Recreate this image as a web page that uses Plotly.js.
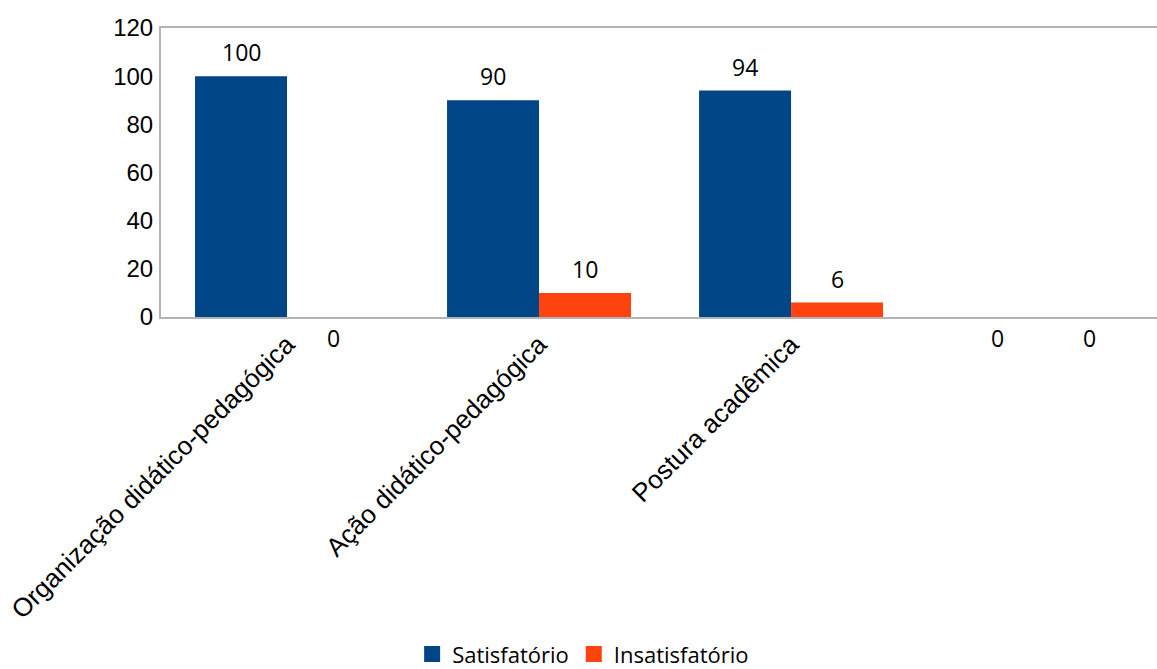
<!DOCTYPE html>
<html>
<head>
<meta charset="utf-8">
<script src="https://cdn.plot.ly/plotly-3.0.1.min.js"></script>
<style>html,body{margin:0;padding:0;background:#fff;}#chart{width:1157px;height:669px;}</style>
</head>
<body>
<div id="chart"></div>
<script>
const categories = ["Organização didático-pedagógica", "Ação didático-pedagógica", "Postura acadêmica", ""];
const catKeys = ["c0", "c1", "c2", "c3"];
const satisfatorio = [100, 90, 94, 0];
const insatisfatorio = [0, 10, 6, 0];
const seriesNames = ["Satisfatório", "Insatisfatório"];
const colors = ["#004586", "#ff420e"];

const traces = [satisfatorio, insatisfatorio].map((vals, i) => ({
  type: "bar",
  name: seriesNames[i],
  x: catKeys,
  y: vals,
  marker: {color: colors[i]},
  hoverinfo: "none",
  showlegend: false
}));
// legend entries with larger square swatches
seriesNames.forEach((n, i) => {
  traces.push({
    type: "scatter", mode: "markers", name: n,
    x: [null], y: [null],
    marker: {symbol: "square", size: 16, color: colors[i]},
    showlegend: true, hoverinfo: "none"
  });
});

const annotations = [];
[satisfatorio, insatisfatorio].forEach((vals, i) => {
  vals.forEach((v, j) => {
    annotations.push({
      x: catKeys[j], y: v, xref: "x", yref: "y",
      text: String(v), showarrow: false,
      xshift: i === 0 ? -46 : 46,
      yshift: v === 0 ? -21 : 24,
      yanchor: "middle",
      font: {family: "Open Sans", size: 23, color: "#000"}
    });
  });
});

const layout = {
  width: 1157, height: 669,
  margin: {l: 161, r: 0, t: 28, b: 352, pad: 0},
  paper_bgcolor: "#fff", plot_bgcolor: "#fff",
  barmode: "group", bargap: 0.27, bargroupgap: 0,
  showlegend: true,
  legend: {orientation: "h", xref: "container", yref: "container", x: 0.504, y: 0.022,
    xanchor: "center", yanchor: "middle", font: {family: "Open Sans", size: 22, color: "#000"},
    itemwidth: 30, traceorder: "normal", tracegroupgap: 0},
  xaxis: {
    type: "category", range: [-0.5, 3.452],
    tickvals: catKeys, ticktext: categories,
    tickangle: -45, showgrid: false, zeroline: false,
    showline: true, linecolor: "#b3b3b3", linewidth: 2, mirror: true,
    ticks: "", tickfont: {family: "Liberation Sans, Arial", size: 26, color: "#000"}
  },
  yaxis: {
    range: [0, 120], dtick: 20, showgrid: false, zeroline: false,
    showline: true, linecolor: "#b3b3b3", linewidth: 2,
    ticks: "", ticklabelstandoff: 1,
    tickfont: {family: "Liberation Sans, Arial", size: 24, color: "#000"}
  },
  annotations: annotations
};

Plotly.newPlot("chart", traces, layout, {displayModeBar: false, staticPlot: true});
</script>
</body>
</html>
